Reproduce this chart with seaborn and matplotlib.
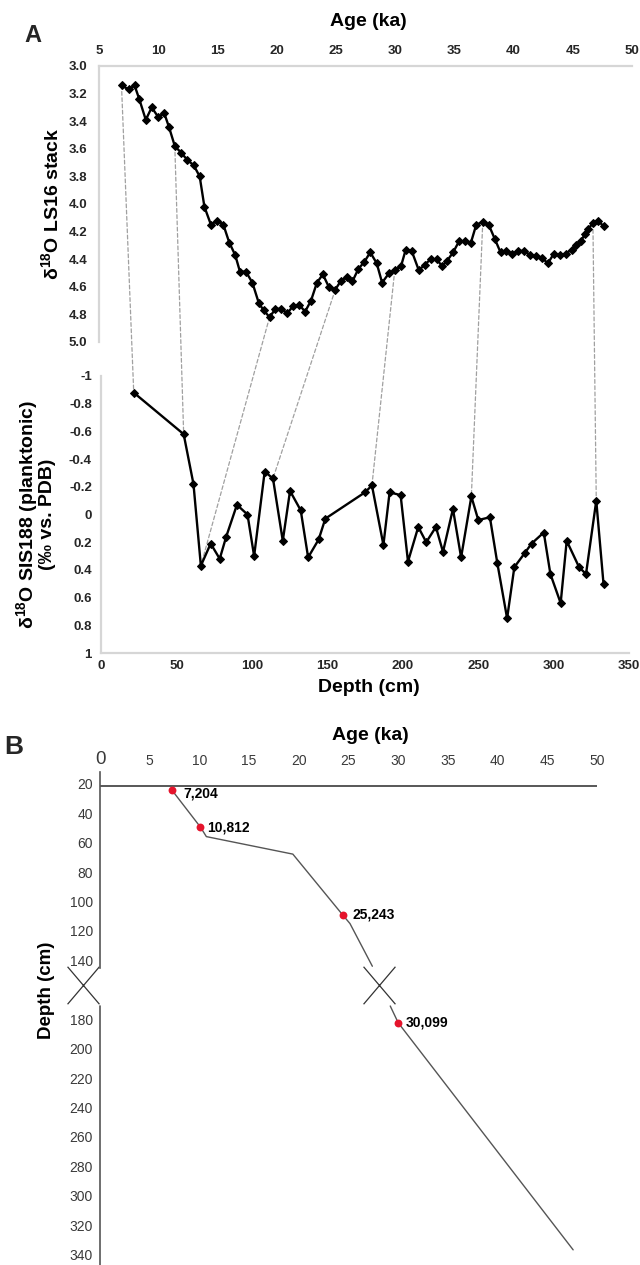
import numpy as np
import matplotlib
matplotlib.use("Agg")
import matplotlib.pyplot as plt
import seaborn as sns
from matplotlib.patches import ConnectionPatch
from matplotlib.path import Path

# ---------------- data ----------------
# Panel A (top): LS16 stack d18O vs age (ka)
ls16_age = [6.9, 7.5, 8.0, 8.4, 8.95, 9.45, 10.0, 10.5, 10.9, 11.4, 11.95, 12.45, 13.0,
            13.5, 13.9, 14.45, 15.0, 15.5, 16.0, 16.5, 16.9, 17.4, 17.95, 18.5, 18.9,
            19.4, 19.9, 20.35, 20.9, 21.4, 21.9, 22.4, 22.9, 23.4, 23.9, 24.4, 24.95,
            25.4, 25.9, 26.4, 26.9, 27.4, 27.9, 28.45, 28.9, 29.5, 29.97, 30.5, 30.9,
            31.4, 32.0, 32.5, 33.0, 33.5, 33.96, 34.4, 34.9, 35.4, 35.9, 36.4, 36.85,
            37.4, 37.9, 38.4, 38.9, 39.4, 39.9, 40.4, 40.9, 41.4, 41.9, 42.4, 42.9,
            43.4, 43.9, 44.4, 44.9, 45.3, 45.7, 46.0, 46.3, 46.7, 47.1, 47.6]
ls16_d18o = [3.14, 3.17, 3.14, 3.24, 3.39, 3.30, 3.37, 3.34, 3.44, 3.58, 3.63, 3.68, 3.72,
             3.80, 4.02, 4.15, 4.12, 4.15, 4.28, 4.37, 4.49, 4.49, 4.57, 4.72, 4.77,
             4.82, 4.76, 4.76, 4.79, 4.74, 4.73, 4.78, 4.70, 4.57, 4.51, 4.60, 4.62,
             4.56, 4.53, 4.56, 4.47, 4.42, 4.35, 4.43, 4.57, 4.50, 4.48, 4.45, 4.33,
             4.34, 4.48, 4.44, 4.40, 4.40, 4.45, 4.41, 4.35, 4.27, 4.27, 4.28, 4.15,
             4.13, 4.15, 4.25, 4.35, 4.34, 4.36, 4.34, 4.34, 4.37, 4.38, 4.39, 4.43,
             4.36, 4.37, 4.36, 4.33, 4.30, 4.27, 4.22, 4.18, 4.14, 4.12, 4.16]

# Panel A (bottom): SIS188 planktonic d18O vs depth (cm)
sis_depth = [21.7, 54.8, 61.3, 66.2, 72.7, 78.7, 83.0, 90.1, 97.1, 101.5, 108.5, 114.0,
             120.5, 125.3, 132.4, 137.3, 144.3, 148.7, 175.0, 179.6, 187.2, 191.3, 198.6,
             203.5, 210.3, 215.6, 222.0, 226.7, 233.3, 238.7, 245.5, 250.1, 257.8, 262.7,
             269.2, 274.0, 280.8, 285.4, 293.5, 297.9, 304.7, 308.7, 316.9, 321.5, 328.3,
             333.1]
sis_d18o = [-0.88, -0.58, -0.22, 0.37, 0.21, 0.32, 0.16, -0.07, 0.00, 0.30, -0.31, -0.26,
            0.19, -0.17, -0.03, 0.31, 0.18, 0.03, -0.16, -0.21, 0.22, -0.16, -0.14,
            0.34, 0.09, 0.20, 0.09, 0.27, -0.04, 0.31, -0.13, 0.04, 0.02, 0.35,
            0.75, 0.38, 0.28, 0.21, 0.13, 0.43, 0.64, 0.19, 0.38, 0.43, -0.10,
            0.50]

# tie points (age in LS16 <-> depth in SIS188)
tie_age = [6.9, 11.4, 19.4, 24.95, 29.97, 37.4, 46.7]
tie_depth = [21.7, 54.8, 66.2, 114.0, 179.6, 245.5, 328.3]

# Panel B: age-depth model
model_upper_age = [7.2, 10.1, 10.7, 19.4, 24.4, 25.15, 27.4]
model_upper_depth = [24.0, 49.4, 55.9, 67.8, 109.0, 115.0, 144.0]
model_lower_age = [29.2, 30.0, 47.6]
model_lower_depth = [171.0, 182.4, 336.7]
dated_age = [7.2, 10.1, 24.4, 30.0]
dated_depth = [24.0, 49.4, 109.0, 182.4]
dated_label = ["7,204", "10,812", "25,243", "30,099"]
core_top_depth = 21.8
break_depth = 157
break_age = [-1.7, 28.1]

ageA_ticks = list(range(5, 51, 5))
d18o_top_ticks = [3.0, 3.2, 3.4, 3.6, 3.8, 4.0, 4.2, 4.4, 4.6, 4.8, 5.0]
depthA_ticks = list(range(0, 351, 50))
d18o_bot_ticks = [-1, -0.8, -0.6, -0.4, -0.2, 0, 0.2, 0.4, 0.6, 0.8, 1]
ageB_ticks = list(range(0, 51, 5))
depthB_ticks = [20, 40, 60, 80, 100, 120, 140, 180, 200, 220, 240, 260, 280, 300, 320, 340]

# ---------------- style ----------------
sns.set_theme(style="white")
plt.rcParams['font.family'] = ['Liberation Sans', 'DejaVu Sans']
plt.rcParams['mathtext.fontset'] = 'custom'
plt.rcParams['mathtext.rm'] = 'Liberation Sans:bold'
plt.rcParams['mathtext.it'] = 'Liberation Sans:bold'
plt.rcParams['mathtext.bf'] = 'Liberation Sans:bold'

W, H = 640, 1265
fig = plt.figure(figsize=(W / 100, H / 100), dpi=100)
fig.patch.set_facecolor('white')


def rect(l, t, r, b):
    return [l / W, 1 - b / H, (r - l) / W, (b - t) / H]


ax1 = fig.add_axes(rect(99, 66, 632, 342))
ax2 = fig.add_axes(rect(101, 376, 629, 653))
ax3 = fig.add_axes(rect(100, 772, 597, 1265))
for ax in (ax1, ax2, ax3):
    ax.set_facecolor('none')

spine_grey = '#d6d6d6'
tick_col = '#262626'


def fmt(v):
    v = round(v, 1) + 0.0
    return f"{v:g}"


# ---- Panel A top ----
sns.lineplot(x=ls16_age, y=ls16_d18o, ax=ax1, color='black', lw=1.7, marker='D',
             markersize=4, markeredgecolor='black', sort=False, estimator=None, zorder=3)
ax1.set_xlim(5, 50)
ax1.set_ylim(5.0, 3.0)
ax1.xaxis.tick_top()
ax1.set_xticks(ageA_ticks, labels=[str(t) for t in ageA_ticks], fontweight='bold')
ax1.set_yticks(d18o_top_ticks, labels=[f"{t:.1f}" for t in d18o_top_ticks], fontweight='bold')
ax1.tick_params(axis='x', length=0, labelsize=9.5, labelcolor=tick_col, pad=6.5)
ax1.tick_params(axis='y', length=0, labelsize=9.5, labelcolor=tick_col, pad=8.5)
for s in ['bottom', 'right']:
    ax1.spines[s].set_visible(False)
for s in ['top', 'left']:
    ax1.spines[s].set_color(spine_grey)
    ax1.spines[s].set_linewidth(1.6)
ax1.set_xlabel('Age (ka)', fontsize=14, fontweight='bold', color='black')
ax1.xaxis.set_label_position('top')
ax1.xaxis.set_label_coords(0.505, 1.16)
ax1.xaxis.label.set_va('center')
ax1.set_ylabel('δ$^{18}$O LS16 stack', fontsize=14, fontweight='bold', color='black',
               va='center')
ax1.yaxis.set_label_coords(-0.09, 0.5)

# ---- Panel A bottom ----
sns.lineplot(x=sis_depth, y=sis_d18o, ax=ax2, color='black', lw=1.7, marker='D',
             markersize=4, markeredgecolor='black', sort=False, estimator=None, zorder=3)
ax2.set_xlim(0, 350)
ax2.set_ylim(1, -1)
ax2.set_xticks(depthA_ticks, labels=[str(t) for t in depthA_ticks], fontweight='bold')
ax2.set_yticks(d18o_bot_ticks, labels=[fmt(t) for t in d18o_bot_ticks], fontweight='bold')
ax2.tick_params(axis='x', length=0, labelsize=9.5, labelcolor=tick_col, pad=5)
ax2.tick_params(axis='y', length=0, labelsize=9.5, labelcolor=tick_col, pad=6.5)
for s in ['top', 'right']:
    ax2.spines[s].set_visible(False)
for s in ['bottom', 'left']:
    ax2.spines[s].set_color(spine_grey)
    ax2.spines[s].set_linewidth(1.6)
ax2.set_xlabel('Depth (cm)', fontsize=14, fontweight='bold', color='black', va='center')
ax2.xaxis.set_label_coords(0.508, -0.123)
ax2.set_ylabel('δ$^{18}$O SIS188 (planktonic)\n(‰ vs. PDB)', fontsize=14,
               fontweight='bold', color='black', va='center', linespacing=0.95)
ax2.yaxis.set_label_coords(-0.125, 0.5)

# dashed tie lines (drawn behind the transparent axes)
for a, d in zip(tie_age, tie_depth):
    y1 = np.interp(a, ls16_age, ls16_d18o)
    y2 = np.interp(d, sis_depth, sis_d18o)
    con = ConnectionPatch(xyA=(a, y1), coordsA=ax1.transData,
                          xyB=(d, y2), coordsB=ax2.transData,
                          color='#a0a0a0', lw=0.9, linestyle=(0, (3, 2)), zorder=-1)
    fig.add_artist(con)

# ---- Panel B ----
line_col = '#555555'
sns.lineplot(x=model_upper_age, y=model_upper_depth, ax=ax3, color=line_col, lw=1.0,
             sort=False, estimator=None)
sns.lineplot(x=model_lower_age, y=model_lower_depth, ax=ax3, color=line_col, lw=1.0,
             sort=False, estimator=None)
ax3.axhline(core_top_depth, xmin=0, xmax=1, color='#4a4a4a', lw=1.3)
sns.scatterplot(x=dated_age, y=dated_depth, ax=ax3, color='#e5142c', s=32,
                edgecolor='#e5142c', linewidth=0, zorder=5)
offsets = [(8.5, -3), (5, 0), (7, 0), (5.5, 0)]
for a, d, lab, off in zip(dated_age, dated_depth, dated_label, offsets):
    ax3.annotate(lab, (a, d), xytext=off, textcoords='offset points', ha='left',
                 va='center', fontsize=10, fontweight='bold', color='black')

ax3.set_xlim(0, 50)
ax3.set_ylim(347, 12)
ax3.xaxis.tick_top()
ax3.set_xticks(ageB_ticks, labels=[str(t) for t in ageB_ticks])
ax3.set_yticks(depthB_ticks, labels=[str(t) for t in depthB_ticks])
ax3.tick_params(axis='x', length=0, labelsize=10, labelcolor='#3a3a3a', pad=3)
ax3.tick_params(axis='y', length=0, labelsize=10, labelcolor='#3a3a3a', pad=5)
ax3.get_xticklabels()[0].set_fontsize(13.5)
for s in ['top', 'right', 'bottom']:
    ax3.spines[s].set_visible(False)
ax3.spines['left'].set_color(line_col)
ax3.spines['left'].set_linewidth(1.2)
ax3.spines['left'].set_bounds(12, 145)
ylo, yhi = ax3.get_ylim()
ax3.axvline(0, ymin=0, ymax=(ylo - 171) / (ylo - yhi), color=line_col, lw=1.2,
            clip_on=False)

xmark = Path([(-0.85, -1), (0.85, 1), (-0.85, 1), (0.85, -1)],
             [Path.MOVETO, Path.LINETO, Path.MOVETO, Path.LINETO])
ax3.plot(break_age, [break_depth] * len(break_age), linestyle='none', marker=xmark,
         markersize=27, markeredgewidth=0.9, color='#333333', markerfacecolor='none',
         clip_on=False)

ax3.set_xlabel('Age (ka)', fontsize=14, fontweight='bold', color='black', va='center')
ax3.xaxis.set_label_position('top')
ax3.xaxis.set_label_coords(0.545, 1.065)
ax3.set_ylabel('Depth (cm)', fontsize=13.5, fontweight='bold', color='black', va='center')
ax3.yaxis.set_label_coords(-0.108, 0.558)

# panel letters
fig.text(33 / W, 1 - 36 / H, 'A', fontsize=17, fontweight='bold', ha='center', va='center')
fig.text(14 / W, 1 - 747 / H, 'B', fontsize=19, fontweight='bold', ha='center', va='center')

fig.savefig('out.png', dpi=100, facecolor='white')
